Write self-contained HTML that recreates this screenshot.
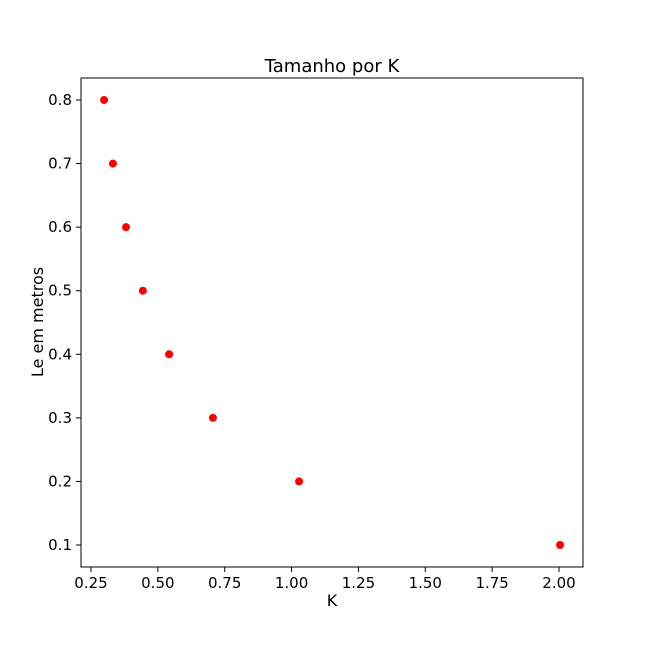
<!DOCTYPE html>
<html><head><meta charset="utf-8"><style>
body{margin:0;background:#fff;font-family:"Liberation Sans","DejaVu Sans",sans-serif;}
svg text{font-family:"DejaVu Sans","Liberation Sans",sans-serif;}
</style></head><body>
<svg id="chart" width="648" height="648" xmlns="http://www.w3.org/2000/svg">
<rect width="648" height="648" fill="#fff"/>
<text x="332" y="72" text-anchor="middle" font-size="18">Tamanho por K</text>
<text x="332" y="606" text-anchor="middle" font-size="16">K</text>
<text x="0" y="0" transform="translate(43,322) rotate(-90)" text-anchor="middle" font-size="16">Le em metros</text>
<g id="ticks"></g>
<g id="points"></g>
<rect x="81" y="78" width="502" height="489" fill="none" stroke="#000" stroke-width="1"/>
</svg>
<script>
const kValues = [0.299, 0.332, 0.381, 0.444, 0.542, 0.706, 1.028, 2.004];
const leValues = [0.8, 0.7, 0.6, 0.5, 0.4, 0.3, 0.2, 0.1];
const xTicks = [0.25, 0.5, 0.75, 1.0, 1.25, 1.5, 1.75, 2.0];
const xTickLabels = ["0.25","0.50","0.75","1.00","1.25","1.50","1.75","2.00"];
const yTicks = [0.1, 0.2, 0.3, 0.4, 0.5, 0.6, 0.7, 0.8];
const yTickLabels = ["0.1","0.2","0.3","0.4","0.5","0.6","0.7","0.8"];

const NS = "http://www.w3.org/2000/svg";
function xs(v){ return 91 + (v - 0.25) * (468 / 1.75); }
function ys(v){ return 545 - (v - 0.1) * (445 / 0.7); }
const tg = document.getElementById('ticks');
xTicks.forEach((t,i)=>{
  const x = xs(t);
  const l = document.createElementNS(NS,'line');
  
  
  l.setAttribute('x1',x);l.setAttribute('x2',x);l.setAttribute('y1',567);l.setAttribute('y2',572);
  l.setAttribute('stroke','#000');tg.appendChild(l);
  const tx = document.createElementNS(NS,'text');
  
  
  tx.setAttribute('x',x);tx.setAttribute('y',588);tx.setAttribute('text-anchor','middle');tx.setAttribute('font-size','15');
  tx.textContent = xTickLabels[i];tg.appendChild(tx);
});
yTicks.forEach((t,i)=>{
  const y = ys(t);
  const l = document.createElementNS(NS,'line');
  
  
  l.setAttribute('x1',76);l.setAttribute('x2',81);l.setAttribute('y1',y);l.setAttribute('y2',y);
  l.setAttribute('stroke','#000');tg.appendChild(l);
  const tx = document.createElementNS(NS,'text');
  
  
  tx.setAttribute('x',72);tx.setAttribute('y',y+5);tx.setAttribute('text-anchor','end');tx.setAttribute('font-size','15');
  tx.textContent = yTickLabels[i];tg.appendChild(tx);
});
const pg = document.getElementById('points');
kValues.forEach((k,i)=>{
  const c = document.createElementNS(NS,'circle');
  
  
  c.setAttribute('cx',xs(k));c.setAttribute('cy',ys(leValues[i]));c.setAttribute('r',4);
  c.setAttribute('fill','#ff0000');pg.appendChild(c);
});
</script>
</body></html>
